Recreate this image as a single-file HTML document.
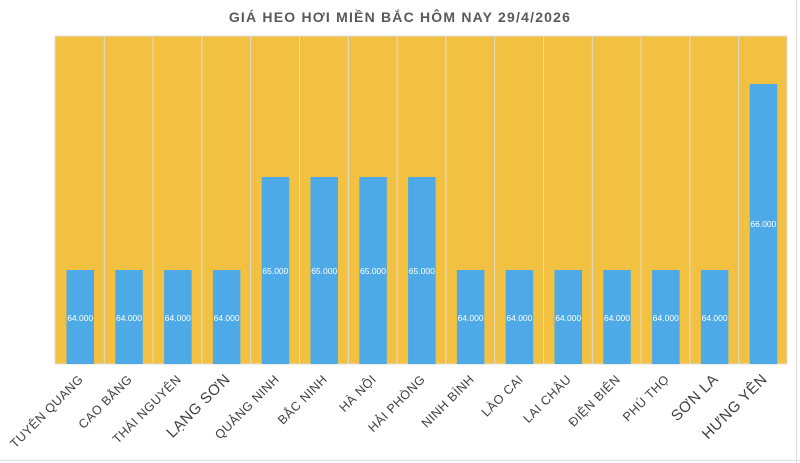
<!DOCTYPE html>
<html><head><meta charset="utf-8"><style>
body{margin:0;background:#fff;}
svg{display:block;font-family:"Liberation Sans","DejaVu Sans",sans-serif;}
</style></head><body>
<svg width="800" height="463" viewBox="0 0 800 463" xmlns="http://www.w3.org/2000/svg">
<rect x="0" y="0" width="800" height="463" fill="#fff"/>
<line x1="796.5" y1="0" x2="796.5" y2="463" stroke="#ddd"/>
<line x1="0" y1="460.5" x2="800" y2="460.5" stroke="#ddd"/>
<text x="400" y="22" text-anchor="middle" font-size="14" font-weight="bold" fill="#595959" letter-spacing="1.2">GIÁ HEO HƠI MIỀN BẮC HÔM NAY 29/4/2026</text>
<rect x="55" y="36" width="732" height="328" fill="#F3C142" stroke="#ddd"/>
<g stroke="#ddd" stroke-width="1">
<line x1="104.3" y1="36" x2="104.3" y2="364"/><line x1="153.1" y1="36" x2="153.1" y2="364"/><line x1="201.9" y1="36" x2="201.9" y2="364"/><line x1="250.7" y1="36" x2="250.7" y2="364"/><line x1="299.5" y1="36" x2="299.5" y2="364"/><line x1="348.3" y1="36" x2="348.3" y2="364"/><line x1="397.1" y1="36" x2="397.1" y2="364"/><line x1="445.9" y1="36" x2="445.9" y2="364"/><line x1="494.7" y1="36" x2="494.7" y2="364"/><line x1="543.5" y1="36" x2="543.5" y2="364"/><line x1="592.3" y1="36" x2="592.3" y2="364"/><line x1="641.1" y1="36" x2="641.1" y2="364"/><line x1="689.9" y1="36" x2="689.9" y2="364"/><line x1="738.7" y1="36" x2="738.7" y2="364"/>
</g>
<g fill="#4DAAE6">
<rect x="66.5" y="270" width="27.5" height="94"/><rect x="115.3" y="270" width="27.5" height="94"/><rect x="164.1" y="270" width="27.5" height="94"/><rect x="212.9" y="270" width="27.5" height="94"/>
<rect x="261.7" y="177" width="27.5" height="187"/><rect x="310.5" y="177" width="27.5" height="187"/><rect x="359.3" y="177" width="27.5" height="187"/><rect x="408.1" y="177" width="27.5" height="187"/>
<rect x="456.9" y="270" width="27.5" height="94"/><rect x="505.7" y="270" width="27.5" height="94"/><rect x="554.5" y="270" width="27.5" height="94"/><rect x="603.3" y="270" width="27.5" height="94"/><rect x="652.1" y="270" width="27.5" height="94"/><rect x="700.9" y="270" width="27.5" height="94"/>
<rect x="749.7" y="84" width="27.5" height="280"/>
</g>
<g fill="#fff" font-size="8.5" text-anchor="middle">
<text x="80.2" y="321">64.000</text><text x="129" y="321">64.000</text><text x="177.8" y="321">64.000</text><text x="226.6" y="321">64.000</text>
<text x="275.4" y="274">65.000</text><text x="324.2" y="274">65.000</text><text x="373" y="274">65.000</text><text x="421.8" y="274">65.000</text>
<text x="470.6" y="321">64.000</text><text x="519.4" y="321">64.000</text><text x="568.2" y="321">64.000</text><text x="617" y="321">64.000</text><text x="665.8" y="321">64.000</text><text x="714.6" y="321">64.000</text>
<text x="763.4" y="227">66.000</text>
</g>
<g fill="#404040" font-size="12.5" text-anchor="end" letter-spacing="0.5">
<text transform="translate(84,380) rotate(-45)">TUYÊN QUANG</text>
<text transform="translate(133,380) rotate(-45)">CAO BẰNG</text>
<text transform="translate(182,380) rotate(-45)">THÁI NGUYÊN</text>
<text transform="translate(231,380) rotate(-45)" font-size="15">LẠNG SƠN</text>
<text transform="translate(280,380) rotate(-45)">QUẢNG NINH</text>
<text transform="translate(328,380) rotate(-45)">BẮC NINH</text>
<text transform="translate(377,380) rotate(-45)">HÀ NỘI</text>
<text transform="translate(426,380) rotate(-45)">HẢI PHÒNG</text>
<text transform="translate(475,380) rotate(-45)">NINH BÌNH</text>
<text transform="translate(524,380) rotate(-45)">LÀO CAI</text>
<text transform="translate(572,380) rotate(-45)">LAI CHÂU</text>
<text transform="translate(621,380) rotate(-45)">ĐIỆN BIÊN</text>
<text transform="translate(670,380) rotate(-45)">PHÚ THỌ</text>
<text transform="translate(719,380) rotate(-45)" font-size="15">SƠN LA</text>
<text transform="translate(768,380) rotate(-45)" font-size="15">HƯNG YÊN</text>
</g>
</svg>
</body></html>
